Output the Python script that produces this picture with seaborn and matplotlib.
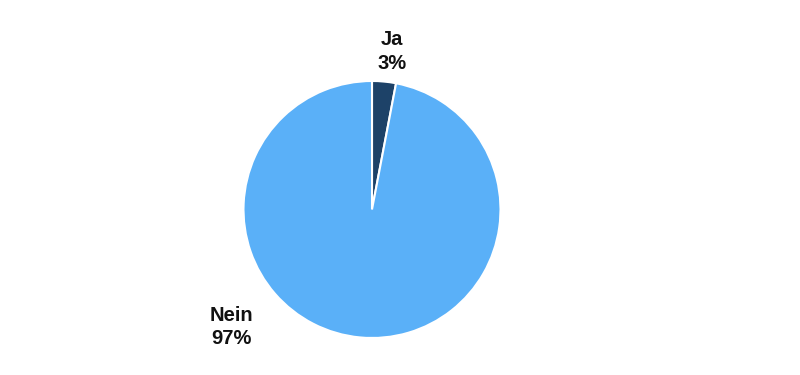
import matplotlib
matplotlib.use("Agg")
import matplotlib.pyplot as plt
import seaborn as sns

categories = ["Ja", "Nein"]
values = [3, 97]
colors = ["#1d4268", "#5ab0f8"]

sns.set_theme(style="white")
plt.rcParams['font.family'] = ['Liberation Sans', 'DejaVu Sans']

fig = plt.figure(figsize=(8, 3.75), dpi=100)
ax = fig.add_axes([0.304, 0.0987, 0.322, 0.6853])
wedges, _ = ax.pie(values, colors=colors, startangle=90, counterclock=False,
                   wedgeprops=dict(edgecolor="white", linewidth=1.5))
ax.set_xlim(-1, 1)
ax.set_ylim(-1, 1)
ax.set_aspect("equal")
ax.axis("off")

label_pos = [(0.156, 1.23), (-1.094, -0.915)]
for cat, v, (x, y) in zip(categories, values, label_pos):
    ax.text(x, y, f"{cat}\n{v}%", ha="center", va="center", fontsize=14.5,
            fontweight="bold", color="#111111", linespacing=1.3, clip_on=False)

fig.savefig("out.png", dpi=100)
